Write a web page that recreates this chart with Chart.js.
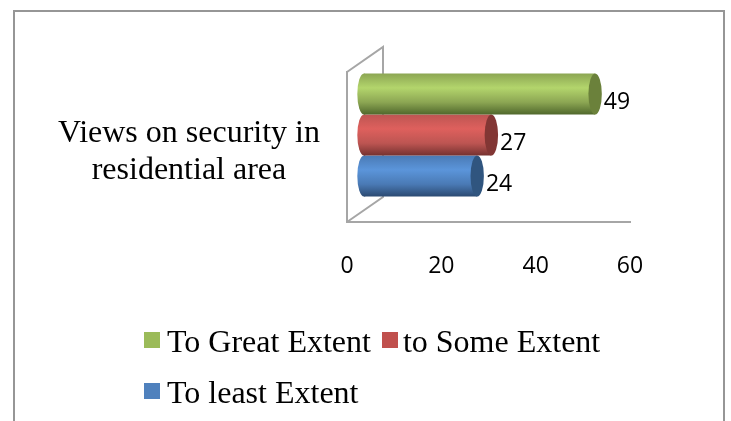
<!DOCTYPE html>
<html>
<head>
<meta charset="utf-8">
<title>Views on security in residential area</title>
<script src="https://cdn.jsdelivr.net/npm/chart.js@4"></script>
<style>
  html, body { margin: 0; padding: 0; background: #fff; }
  #wrap { position: relative; width: 731px; height: 421px; overflow: hidden; }
  #frame {
    position: absolute; left: 13px; top: 10px; width: 708px; height: 420px;
    border: 2px solid #969696;
  }
  canvas { position: absolute; left: 0; top: 0; }
  #legend {
    position: absolute; left: 144px; top: 316px; width: 480px;
    font-family: "Liberation Serif", serif; font-size: 32px; color: #000;
  }
  .row { height: 51px; line-height: 51px; white-space: nowrap; }
  .item { display: inline-block; margin-right: 11px; }
  .swatch { display: inline-block; width: 16px; height: 16px; margin-right: 7px; position: relative; top: -4px; }
  .item + .item .swatch { margin-right: 5px; }
</style>
</head>
<body>
<div id="wrap">
  <div id="frame"></div>
  <canvas id="chart" width="731" height="421"></canvas>
  <div id="legend"></div>
</div>
<script>
// Chart data
var categories = [['Views on security in', 'residential area']];
var seriesNames = ['To Great Extent', 'to Some Extent', 'To least Extent'];
var greatExtent = [49];
var someExtent = [27];
var leastExtent = [24];
var xTicks = [0, 20, 40, 60];

// One palette entry per series: swatch, body gradient stops, end cap
var palette = [
  { swatch: '#9bbb59', edge: '#8ca653', mid: '#b3d56c', low: '#50682c', cap: '#6b813b' },
  { swatch: '#c0504d', edge: '#bd5552', mid: '#de605d', low: '#763230', cap: '#823634' },
  { swatch: '#4f81bd', edge: '#4a7ab5', mid: '#5b95da', low: '#2b4a72', cap: '#30557f' }
];

var WALL = '#a6a6a6';
var DEPTH_X = 36;   // how far the back wall sits from the front
var DEPTH_Y = 25;
var BAR_DX = 17;    // cylinders stand midway between front and back
var BAR_DY = -12;
var CAP_RX = 6.7;

// Back wall and floor edge, behind the bars
var wallPlugin = {
  id: 'walls',
  beforeDatasetsDraw: function(chart) {
    var a = chart.chartArea;
    var c = chart.ctx;
    c.save();
    c.strokeStyle = WALL;
    c.lineWidth = 2;
    c.beginPath();
    c.moveTo(a.left, a.top);
    c.lineTo(a.left + DEPTH_X, a.top - DEPTH_Y);
    c.lineTo(a.left + DEPTH_X, a.bottom - DEPTH_Y);
    c.lineTo(a.left, a.bottom);
    c.stroke();
    c.restore();
  }
};

// Turns each flat bar into a cylinder and writes its value beside it
var cylinderPlugin = {
  id: 'cylinders',
  beforeDatasetDraw: function(chart, args) {
    var c = chart.ctx;
    var bar = args.meta.data[0];
    var p = palette[args.index];
    var top = bar.y - bar.height / 2;
    var grad = c.createLinearGradient(0, top, 0, top + bar.height);
    grad.addColorStop(0, p.edge);
    grad.addColorStop(0.35, p.mid);
    grad.addColorStop(0.7, p.edge);
    grad.addColorStop(1, p.low);
    bar.options.backgroundColor = grad;

    c.save();
    c.translate(BAR_DX, BAR_DY);
    c.fillStyle = grad;
    c.beginPath();
    c.ellipse(bar.base, bar.y, CAP_RX, bar.height / 2, 0, 0, Math.PI * 2);
    c.fill();
  },
  afterDatasetDraw: function(chart, args) {
    var c = chart.ctx;
    var bar = args.meta.data[0];
    var p = palette[args.index];
    c.fillStyle = p.cap;
    c.beginPath();
    c.ellipse(bar.x, bar.y, CAP_RX, bar.height / 2, 0, 0, Math.PI * 2);
    c.fill();

    c.fillStyle = '#000';
    c.font = '23px "Open Sans"';
    c.textAlign = 'left';
    c.textBaseline = 'middle';
    c.fillText(chart.data.datasets[args.index].data[0], bar.x + CAP_RX + 2, bar.y + 8);
    c.restore();
  }
};

var allValues = [greatExtent, someExtent, leastExtent];

new Chart(document.getElementById('chart'), {
  type: 'bar',
  plugins: [wallPlugin, cylinderPlugin],
  data: {
    labels: categories,
    datasets: allValues.map(function(values, i) {
      return {
        label: seriesNames[i],
        data: values,
        backgroundColor: palette[i].swatch,
        borderWidth: 0,
        categoryPercentage: 0.82,
        barPercentage: 1
      };
    })
  },
  options: {
    indexAxis: 'y',
    responsive: false,
    animation: false,
    layout: { padding: { top: 72, right: 101, bottom: 0, left: 0 } },
    scales: {
      x: {
        min: 0,
        max: 60,
        afterFit: function(scale) { scale.height = 199; },
        afterBuildTicks: function(scale) {
          scale.ticks = xTicks.map(function(v) { return { value: v }; });
        },
        grid: { display: false, drawTicks: false },
        border: { display: true, color: WALL, width: 2 },
        ticks: {
          padding: 31,
          maxRotation: 0,
          color: '#000',
          font: { family: 'Open Sans', size: 23 }
        }
      },
      y: {
        afterFit: function(scale) { scale.width = 347; },
        grid: { display: false, drawTicks: false },
        border: { display: true, color: WALL, width: 2 },
        ticks: {
          padding: 27,
          labelOffset: 5,
          crossAlign: 'center',
          color: '#000',
          font: { family: 'Liberation Serif', size: 32, lineHeight: 1.16 }
        }
      }
    },
    plugins: {
      legend: { display: false },
      tooltip: { enabled: false }
    }
  }
});

// Legend rows: two entries on the first line, one on the second
var legendRows = [[0, 1], [2]];
var legendEl = document.getElementById('legend');
legendRows.forEach(function(row) {
  var rowEl = document.createElement('div');
  rowEl.className = 'row';
  row.forEach(function(i) {
    var item = document.createElement('span');
    item.className = 'item';
    var swatch = document.createElement('span');
    swatch.className = 'swatch';
    swatch.style.background = palette[i].swatch;
    item.appendChild(swatch);
    item.appendChild(document.createTextNode(seriesNames[i]));
    rowEl.appendChild(item);
  });
  legendEl.appendChild(rowEl);
});
</script>
</body>
</html>
